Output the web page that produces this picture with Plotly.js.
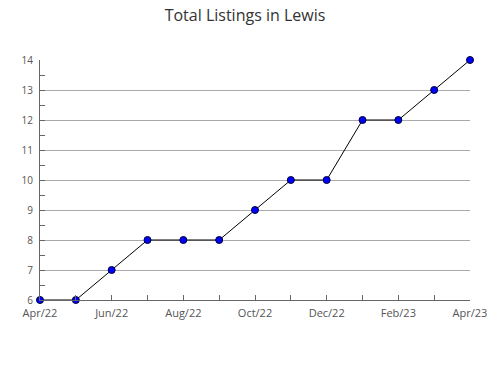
<!DOCTYPE html>
<html>
<head>
<meta charset="utf-8">
<script src="https://cdn.plot.ly/plotly-3.0.1.min.js"></script>
<style>html,body{margin:0;padding:0;background:#fff}#chart{width:490px;height:380px}</style>
</head>
<body>
<div id="chart"></div>
<script>
const months = ["Apr/22","May/22","Jun/22","Jul/22","Aug/22","Sep/22","Oct/22","Nov/22","Dec/22","Jan/23","Feb/23","Mar/23","Apr/23"];
const listings = [6,6,7,8,8,8,9,10,10,12,12,13,14];
const tickText = months.map((m,i)=> i%2===0 ? m : "");

const trace = {
  x: months, y: listings, type: 'scatter', mode: 'lines+markers',
  line: {color: '#000', width: 1},
  marker: {color: '#0000ff', size: 7, line: {color: '#000033', width: 1}},
  cliponaxis: false, hoverinfo: 'x+y'
};
const layout = {
  width: 490, height: 380,
  margin: {l: 40, r: 20, t: 60, b: 80},
  paper_bgcolor: '#fff', plot_bgcolor: '#fff',
  font: {family: 'Open Sans, sans-serif', size: 10, color: '#555'},
  title: {text: 'Total Listings in Lewis', font: {size: 16, color: '#333'}, x: 0.5, xanchor: 'center', y: 0.96, yanchor: 'middle'},
  showlegend: false,
  xaxis: {
    type: 'category', tickmode: 'array', tickvals: months, ticktext: tickText,
    ticks: 'inside', ticklen: 5, tickcolor: '#666', tickwidth: 1, ticklabelstandoff: 3,
    tickfont: {size: 11},
    showline: true, linecolor: '#666', linewidth: 1, showgrid: false, zeroline: false,
    range: [0, months.length - 1], fixedrange: true
  },
  yaxis: {
    range: [6, 14], dtick: 1, tick0: 6, ticks: 'inside', ticklen: 5, tickcolor: '#666',
    ticklabelstandoff: 4,
    showline: true, linecolor: '#666', linewidth: 1, showgrid: true, gridcolor: '#aaa', gridwidth: 1,
    zeroline: false, fixedrange: true,
    minor: {dtick: 0.5, ticks: 'inside', ticklen: 5, tickcolor: '#666', showgrid: false}
  }
};
Plotly.newPlot('chart', [trace], layout, {displayModeBar: false, staticPlot: true});
</script>
</body>
</html>
